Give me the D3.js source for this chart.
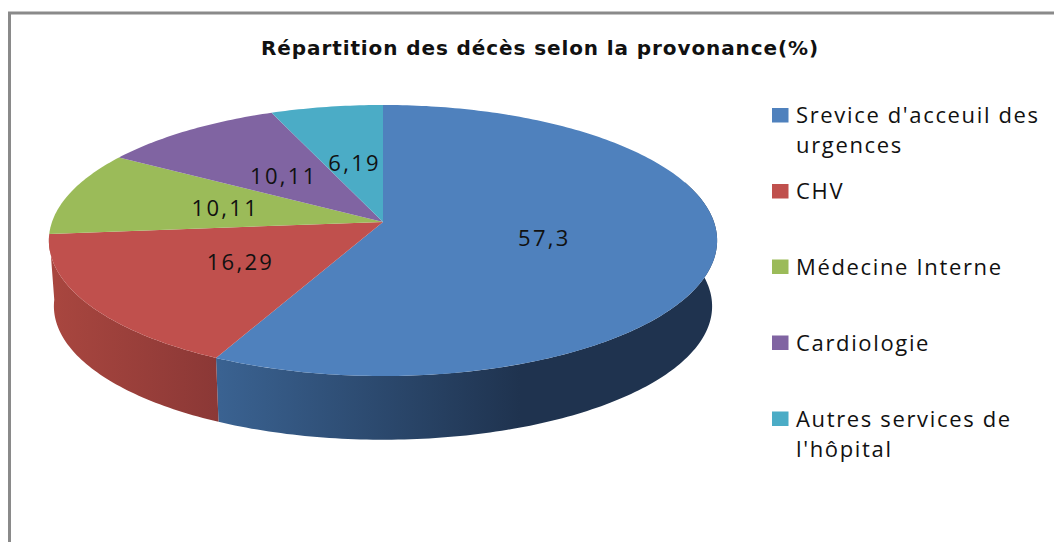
<!DOCTYPE html>
<html>
<head>
<meta charset="utf-8">
<script src="https://cdn.jsdelivr.net/npm/d3@7"></script>
<style>
html, body { margin: 0; padding: 0; background: #fff; }
svg { display: block; }
text { font-family: "Open Sans", sans-serif; fill: #111; }
</style>
</head>
<body>
<svg id="chart" width="1054" height="542"></svg>
<script>
// data
var services = ["Srevice d'acceuil des|urgences", "CHV", "Médecine Interne", "Cardiologie", "Autres services de|l'hôpital"];
var values = [57.3, 16.29, 10.11, 10.11, 6.19];
var valueLabels = ["57,3", "16,29", "10,11", "10,11", "6,19"];
var title = "Répartition des décès selon la provonance(%)";

var topColors = ["#4f81bd", "#c0504d", "#9bbb59", "#8064a2", "#4bacc6"];
var sideFrom = ["#3a6291", "#a8463f"];
var sideTo = ["#1f334f", "#8b3836"];
var legendY = [115.5, 191.5, 267, 343, 419];
var labelRadius = [0.49, 0.505, 0.5, 0.49, 0.49];

var svg = d3.select("#chart");

// frame, only left and top are in the picture
svg.append("path")
    .attr("d", "M9.5,542V13H1054")
    .attr("fill", "none")
    .attr("stroke", "#8a8a8a")
    .attr("stroke-width", 3);

svg.append("text")
    .attr("x", 540)
    .attr("y", 55)
    .attr("text-anchor", "middle")
    .style("font-family", "'DejaVu Sans'")
    .attr("font-size", 20)
    .attr("font-weight", 700)
    .attr("letter-spacing", 0.9)
    .text(title);

// perspective of the tilted disc
var k = 0.1365, cx = 383, cy = 222, A = 331, B = 133;
var depth = 66, shrink = 0.985;

function project(a, r, top) {
    var u = Math.sin(a) * r, v = Math.cos(a) * r, w = 1 + k * v;
    var s = top ? 1 : shrink;
    return [cx + s * A * u / w, cy + (top ? 0 : depth) - s * B * v / w];
}

var pie = d3.pie().sort(null).value(function (d) { return d; });
var arcs = pie(values);
var line = d3.line();

function rim(a0, a1, top) {
    var n = Math.max(2, Math.ceil((a1 - a0) * 60));
    return d3.range(n + 1).map(function (i) {
        return project(a0 + (a1 - a0) * i / n, 1, top);
    });
}

// side gradients, only the first two slices show a wall
var defs = svg.append("defs");
sideFrom.forEach(function (c, i) {
    var g = defs.append("linearGradient")
        .attr("id", "side" + i)
        .attr("gradientUnits", "userSpaceOnUse")
        .attr("x1", i == 0 ? 220 : 55).attr("y1", 0)
        .attr("x2", i == 0 ? 520 : 218).attr("y2", 0);
    g.append("stop").attr("offset", 0).attr("stop-color", c);
    g.append("stop").attr("offset", 1).attr("stop-color", sideTo[i]);
});

// visible wall
arcs.slice(0, 2).forEach(function (d, i) {
    var a0 = Math.max(d.startAngle, 0.4 * Math.PI);
    var pts = rim(a0, d.endAngle, true).concat(rim(a0, d.endAngle, false).reverse());
    svg.append("path")
        .attr("d", line(pts) + "Z")
        .attr("fill", "url(#side" + i + ")");
});

// top face
arcs.forEach(function (d, i) {
    var pts = [project(0, 0, true)].concat(rim(d.startAngle, d.endAngle, true));
    svg.append("path")
        .attr("d", line(pts) + "Z")
        .attr("fill", topColors[i]);
});

// value labels
arcs.forEach(function (d, i) {
    var p = project((d.startAngle + d.endAngle) / 2, labelRadius[i], true);
    svg.append("text")
        .attr("x", p[0] + 1)
        .attr("y", p[1] + 9)
        .attr("text-anchor", "middle")
        .attr("font-size", 22)
        .attr("letter-spacing", 2.3)
        .text(valueLabels[i]);
});

// legend
services.forEach(function (s, i) {
    svg.append("rect")
        .attr("x", 772).attr("y", legendY[i] - 7.5)
        .attr("width", 16.5).attr("height", 14.5)
        .attr("fill", topColors[i]);
    s.split("|").forEach(function (t, j) {
        svg.append("text")
            .attr("x", 796)
            .attr("y", legendY[i] + 7.5 + j * 30)
            .attr("font-size", 22)
            .attr("letter-spacing", 1.65)
            .text(t);
    });
});
</script>
</body>
</html>
